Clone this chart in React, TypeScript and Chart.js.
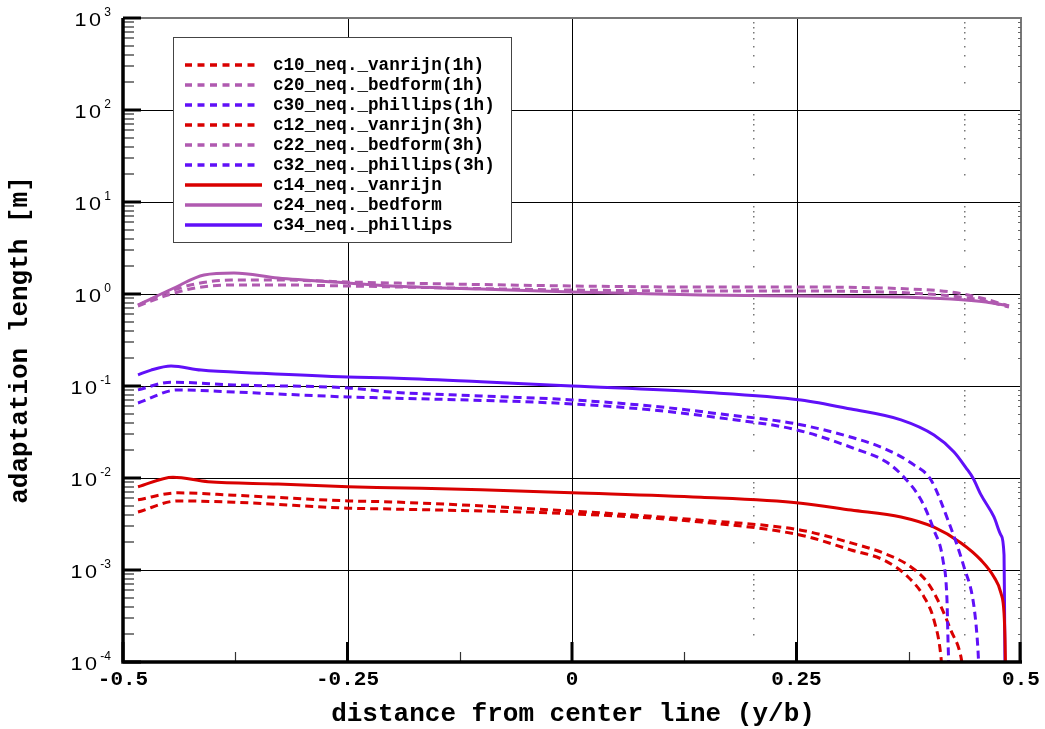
import { useEffect, useRef } from 'react';
import { Chart, registerables } from 'chart.js';

Chart.register(...registerables);

// ---------- data (x = y/b, y = adaptation length [m]) ----------
const c10X = [-0.4833, -0.4388, -0.3764, -0.2494, -0.2016, 0, 0.1437, 0.255, 0.3107, 0.3474, 0.3742, 0.392, 0.4031, 0.4109, 0.412];
const c10Y = [0.00427, 0.00564, 0.00545, 0.0047, 0.0046, 0.00408, 0.00332, 0.00239, 0.00165, 0.00128, 0.00084, 0.00051, 0.000285, 0.000113, 0.00008];

const c20X = [-0.4833, -0.4499, -0.4198, -0.3797, -0.3241, -0.2494, -0.1347, 0, 0.1437, 0.255, 0.3775, 0.422, 0.4555, 0.4866];
const c20Y = [0.741, 0.975, 1.162, 1.253, 1.253, 1.222, 1.162, 1.105, 1.078, 1.078, 1.025, 0.951, 0.861, 0.722];

const c30X = [-0.4833, -0.4388, -0.3764, -0.2494, -0.2016, 0, 0.088, 0.1659, 0.2506, 0.314, 0.3497, 0.3697, 0.3886, 0.4031, 0.4131, 0.4176, 0.4187, 0.4198];
const c30Y = [0.0654, 0.0907, 0.086, 0.076, 0.074, 0.0639, 0.055, 0.0449, 0.0333, 0.021, 0.015, 0.0102, 0.0058, 0.00271, 0.00128, 0.000466, 0.000174, 0.00008];

const c12X = [-0.4833, -0.4388, -0.3764, -0.2494, -0.2016, 0, 0.1437, 0.255, 0.3107, 0.3474, 0.3775, 0.3964, 0.4109, 0.422, 0.4332, 0.4354];
const c12Y = [0.0058, 0.0069, 0.0065, 0.00564, 0.0055, 0.00437, 0.00348, 0.00271, 0.00197, 0.00152, 0.00108, 0.00072, 0.0004, 0.00022, 0.000113, 0.00008];

const c22X = [-0.4833, -0.4499, -0.4198, -0.3797, -0.3241, -0.2494, -0.1347, 0, 0.1437, 0.255, 0.3775, 0.422, 0.4555, 0.4866];
const c22Y = [0.759, 1.051, 1.284, 1.419, 1.419, 1.35, 1.284, 1.222, 1.191, 1.191, 1.133, 1.051, 0.905, 0.741];

const c32X = [-0.4833, -0.4465, -0.3764, -0.2494, -0.2016, -0.1013, 0, 0.088, 0.1659, 0.2506, 0.314, 0.3474, 0.3808, 0.3998, 0.4187, 0.4365, 0.4477, 0.4521, 0.4532];
const c32Y = [0.0907, 0.11, 0.1027, 0.0953, 0.086, 0.078, 0.0706, 0.0606, 0.0496, 0.0386, 0.0272, 0.021, 0.0139, 0.0095, 0.00348, 0.00108, 0.000396, 0.000135, 0.00008];

const c14X = [-0.4833, -0.4443, -0.4053, -0.3274, -0.2494, -0.2016, -0.1013, 0, 0.1437, 0.255, 0.3107, 0.3664, 0.4031, 0.4332, 0.4555, 0.4699, 0.4777, 0.4811, 0.4822, 0.4828];
const c14Y = [0.00803, 0.0102, 0.0091, 0.00862, 0.00803, 0.00784, 0.00746, 0.00692, 0.00618, 0.00533, 0.00449, 0.00377, 0.00292, 0.00197, 0.00128, 0.00084, 0.00056, 0.00034, 0.000174, 0.00008];

const c24X = [-0.4833, -0.4432, -0.4098, -0.3764, -0.3274, -0.2494, -0.2016, -0.1013, 0, 0.1437, 0.255, 0.3664, 0.422, 0.461, 0.4866];
const c24Y = [0.759, 1.162, 1.609, 1.692, 1.493, 1.317, 1.222, 1.133, 1.051, 0.975, 0.951, 0.928, 0.882, 0.818, 0.741];

const c34X = [-0.4833, -0.4688, -0.4465, -0.4131, -0.3497, -0.2494, -0.2016, -0.1013, 0, 0.1437, 0.255, 0.3107, 0.3664, 0.4031, 0.4254, 0.4388, 0.4465, 0.4555, 0.4699, 0.4777, 0.4811, 0.4816, 0.4822];
const c34Y = [0.132, 0.149, 0.165, 0.149, 0.138, 0.125, 0.122, 0.111, 0.1, 0.086, 0.0706, 0.0562, 0.0428, 0.0293, 0.0192, 0.0129, 0.01, 0.00655, 0.00377, 0.00239, 0.00146, 0.00047, 0.00008];

const seriesNames = [
  'c10_neq._vanrijn(1h)',
  'c20_neq._bedform(1h)',
  'c30_neq._phillips(1h)',
  'c12_neq._vanrijn(3h)',
  'c22_neq._bedform(3h)',
  'c32_neq._phillips(3h)',
  'c14_neq._vanrijn',
  'c24_neq._bedform',
  'c34_neq._phillips',
];

const xTickValues = [-0.5, -0.25, 0, 0.25, 0.5];
const xTickLabels = ['-0.5', '-0.25', '0', '0.25', '0.5'];
const xMinorTickValues = [-0.375, -0.125, 0.125, 0.375];
const yDecadeExponents = [-4, -3, -2, -1, 0, 1, 2, 3];
const dottedColumnX = [0.2016, 0.4365];

const xTitle = 'distance from center line (y/b)';
const yTitle = 'adaptation length [m]';

// ---------- styles ----------
const RED = '#d90000';
const PURPLE = '#b05ab0';
const BLUE = '#6010f8';
const DASH = [8, 5];

const seriesXs = [c10X, c20X, c30X, c12X, c22X, c32X, c14X, c24X, c34X];
const seriesYs = [c10Y, c20Y, c30Y, c12Y, c22Y, c32Y, c14Y, c24Y, c34Y];
const seriesColors = [RED, PURPLE, BLUE, RED, PURPLE, BLUE, RED, PURPLE, BLUE];
const seriesDashed = [true, true, true, true, true, true, false, false, false];

const MONO = '"Liberation Mono", "DejaVu Sans Mono", monospace';
const SANS = '"Liberation Sans", Arial, sans-serif';

const decor = {
  id: 'decor',
  beforeDatasetsDraw(chart: any) {
    const { ctx, chartArea: a, scales } = chart;
    const xs = scales.x;
    const ys = scales.y;
    ctx.save();
    ctx.strokeStyle = '#000';
    ctx.lineWidth = 1;
    // vertical grid lines at inner major ticks
    for (const v of xTickValues) {
      if (v <= -0.5 || v >= 0.5) continue;
      const px = Math.round(xs.getPixelForValue(v)) + 0.5;
      ctx.beginPath();
      ctx.moveTo(px, a.top);
      ctx.lineTo(px, a.bottom);
      ctx.stroke();
    }
    // horizontal grid lines at decades
    for (const k of yDecadeExponents) {
      if (k <= -4 || k >= 3) continue;
      const py = Math.round(ys.getPixelForValue(Math.pow(10, k))) + 0.5;
      ctx.beginPath();
      ctx.moveTo(a.left, py);
      ctx.lineTo(a.right, py);
      ctx.stroke();
    }
    // faint dotted columns at minor log positions
    ctx.fillStyle = '#777';
    for (const xv of dottedColumnX) {
      const px = Math.round(xs.getPixelForValue(xv));
      for (const k of yDecadeExponents) {
        if (k >= 3) continue;
        for (let m = 2; m <= 9; m++) {
          const py = Math.round(ys.getPixelForValue(m * Math.pow(10, k)));
          ctx.fillRect(px, py, 1.5, 1.5);
        }
      }
    }
    ctx.restore();
  },
  afterDatasetsDraw(chart: any) {
    const { ctx, chartArea: a, scales } = chart;
    const xs = scales.x;
    const ys = scales.y;
    ctx.save();

    // top / right frame (grey)
    ctx.strokeStyle = '#777';
    ctx.lineWidth = 2;
    ctx.beginPath();
    ctx.moveTo(a.left, a.top);
    ctx.lineTo(a.right, a.top);
    ctx.lineTo(a.right, a.bottom);
    ctx.stroke();

    // right-side tiny minor ticks
    ctx.strokeStyle = '#666';
    ctx.lineWidth = 1;
    for (const k of yDecadeExponents) {
      if (k >= 3) continue;
      for (let m = 2; m <= 9; m++) {
        const py = Math.round(ys.getPixelForValue(m * Math.pow(10, k))) + 0.5;
        ctx.beginPath();
        ctx.moveTo(a.right - 3, py);
        ctx.lineTo(a.right, py);
        ctx.stroke();
      }
    }

    // y minor ticks (left)
    ctx.strokeStyle = '#555';
    ctx.lineWidth = 1.5;
    for (const k of yDecadeExponents) {
      if (k >= 3) continue;
      for (let m = 2; m <= 9; m++) {
        const py = Math.round(ys.getPixelForValue(m * Math.pow(10, k)));
        ctx.beginPath();
        ctx.moveTo(a.left, py);
        ctx.lineTo(a.left + 11, py);
        ctx.stroke();
      }
    }
    // y major ticks
    ctx.strokeStyle = '#000';
    ctx.lineWidth = 3;
    for (const k of yDecadeExponents) {
      const py = ys.getPixelForValue(Math.pow(10, k));
      ctx.beginPath();
      ctx.moveTo(a.left, py);
      ctx.lineTo(a.left + 18, py);
      ctx.stroke();
    }
    // x minor ticks
    ctx.strokeStyle = '#333';
    ctx.lineWidth = 1.2;
    for (const v of xMinorTickValues) {
      const px = Math.round(xs.getPixelForValue(v)) + 0.5;
      ctx.beginPath();
      ctx.moveTo(px, a.bottom);
      ctx.lineTo(px, a.bottom - 10);
      ctx.stroke();
    }
    // x major ticks
    ctx.strokeStyle = '#000';
    ctx.lineWidth = 3;
    for (const v of xTickValues) {
      let px = xs.getPixelForValue(v);
      if (v >= 0.5) px -= 1;
      ctx.beginPath();
      ctx.moveTo(px, a.bottom);
      ctx.lineTo(px, a.bottom - 20);
      ctx.stroke();
    }

    // left & bottom axis lines (thick black)
    ctx.lineWidth = 3.5;
    ctx.beginPath();
    ctx.moveTo(a.left, a.top);
    ctx.lineTo(a.left, a.bottom);
    ctx.lineTo(a.right + 1, a.bottom);
    ctx.stroke();

    // y tick labels 10^k
    ctx.fillStyle = '#000';
    ctx.textBaseline = 'alphabetic';
    for (const k of yDecadeExponents) {
      const py = ys.getPixelForValue(Math.pow(10, k));
      const exp = String(k);
      ctx.font = `12px ${SANS}`;
      ctx.textAlign = 'right';
      const expRight = a.left - 12;
      ctx.fillText(exp, expRight, py - 2);
      const expW = ctx.measureText(exp).width;
      ctx.save();
      ctx.translate(expRight - expW - 1, py + 8);
      ctx.scale(1.2, 1);
      ctx.font = `18px ${SANS}`;
      (ctx as any).letterSpacing = '2px';
      ctx.textAlign = 'right';
      ctx.fillText('10', 0, 0);
      ctx.restore();
    }

    // x tick labels
    ctx.font = `bold 21px ${MONO}`;
    ctx.textAlign = 'center';
    ctx.textBaseline = 'alphabetic';
    xTickValues.forEach((v, i) => {
      const px = xs.getPixelForValue(v);
      ctx.fillText(xTickLabels[i], px, a.bottom + 23);
    });

    // axis titles
    ctx.font = `bold 26px ${MONO}`;
    ctx.textAlign = 'center';
    ctx.fillText(xTitle, (a.left + a.right) / 2 + 1, a.bottom + 59);
    ctx.save();
    ctx.translate(27, (a.top + a.bottom) / 2);
    ctx.rotate(-Math.PI / 2);
    ctx.fillText(yTitle, 0, 0);
    ctx.restore();

    // legend
    const lx = a.left + 50;
    const ly = a.top + 19;
    const lw = 338;
    const lh = 205;
    ctx.fillStyle = '#fff';
    ctx.fillRect(lx, ly, lw, lh);
    ctx.strokeStyle = '#444';
    ctx.lineWidth = 1;
    ctx.strokeRect(lx + 0.5, ly + 0.5, lw, lh);
    ctx.font = `bold 17.6px ${MONO}`;
    ctx.textAlign = 'left';
    ctx.textBaseline = 'middle';
    seriesNames.forEach((name, i) => {
      const ry = ly + 28 + i * 20;
      ctx.strokeStyle = seriesColors[i];
      ctx.lineWidth = 3.5;
      ctx.setLineDash(seriesDashed[i] ? [7, 5.5] : []);
      ctx.beginPath();
      ctx.moveTo(lx + 12, ry);
      ctx.lineTo(lx + (seriesDashed[i] ? 86 : 89), ry);
      ctx.stroke();
      ctx.setLineDash([]);
      ctx.fillStyle = '#000';
      ctx.fillText(name, lx + 100, ry + 1);
    });

    ctx.restore();
  },
};

export default function App() {
  const canvasRef = useRef<HTMLCanvasElement | null>(null);

  useEffect(() => {
    const canvas = canvasRef.current;
    if (!canvas) return;
    const datasets = seriesNames.map((name, i) => ({
      label: name,
      data: seriesXs[i].map((xv, j) => ({ x: xv, y: seriesYs[i][j] })),
      borderColor: seriesColors[i],
      backgroundColor: seriesColors[i],
      borderWidth: 3,
      borderDash: seriesDashed[i] ? DASH : [],
      borderCapStyle: 'butt' as const,
      pointRadius: 0,
      fill: false,
      cubicInterpolationMode: 'monotone' as const,
    }));

    const chart = new Chart(canvas, {
      type: 'line',
      data: { datasets },
      options: {
        animation: false,
        responsive: false,
        devicePixelRatio: 1,
        layout: { padding: { left: 0, right: 24, top: 18, bottom: 0 } },
        plugins: {
          legend: { display: false },
          tooltip: { enabled: false },
        },
        scales: {
          x: {
            type: 'linear',
            min: -0.5,
            max: 0.5,
            ticks: { display: false },
            grid: { display: false },
            border: { display: false },
            afterFit: (s: any) => {
              s.height = 67;
            },
          },
          y: {
            type: 'logarithmic',
            min: 1e-4,
            max: 1e3,
            ticks: { display: false },
            grid: { display: false },
            border: { display: false },
            afterFit: (s: any) => {
              s.width = 123;
            },
          },
        },
      },
      plugins: [decor],
    } as any);

    return () => chart.destroy();
  }, []);

  return (
    <div style={{ position: 'fixed', left: 0, top: 0, width: 1045, height: 729, background: '#fff' }}>
      <canvas ref={canvasRef} width={1045} height={729} style={{ display: 'block' }} />
    </div>
  );
}
